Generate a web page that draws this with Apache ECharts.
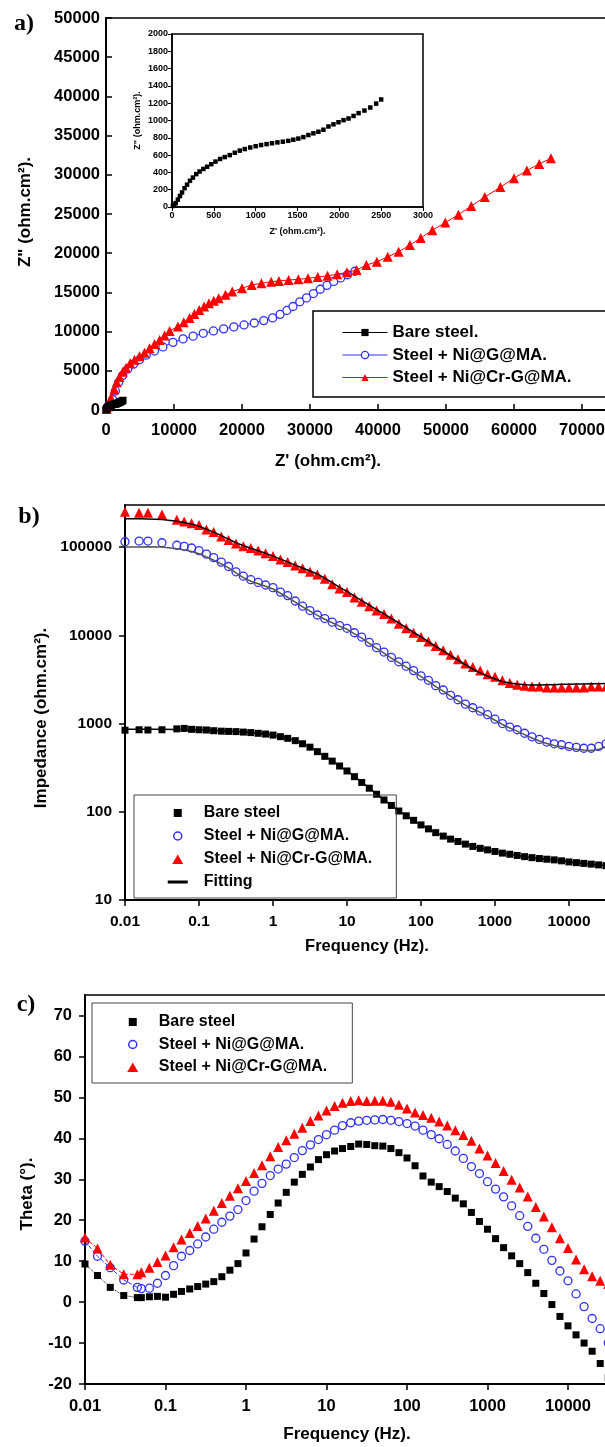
<!DOCTYPE html>
<html>
<head>
<meta charset="utf-8">
<script src="https://cdn.jsdelivr.net/npm/echarts@6.0.0/dist/echarts.min.js"></script>
<style>
html, body { margin: 0; padding: 0; background: #fff; }
#chart { width: 605px; height: 1447px; }
</style>
</head>
<body>
<div id="chart"></div>
<script>
// ---------- a) Nyquist (Z' , Z'') ----------
var reBare = [10, 25, 45, 70, 95, 120, 150, 180, 215, 250, 290, 330, 375, 420, 470, 520, 575, 630, 690, 750,
  810, 870, 935, 1000, 1065, 1130, 1195, 1260, 1325, 1390, 1450, 1510, 1570, 1630, 1690, 1750, 1810, 1870, 1930, 1990,
  2050, 2110, 2170, 2230, 2300, 2370, 2440, 2500];
var imBare = [12, 28, 45, 85, 127, 168, 218, 258, 303, 340, 380, 410, 440, 465, 495, 525, 555, 577, 600, 627,
  652, 670, 688, 703, 716, 727, 737, 747, 755, 765, 778, 791, 808, 832, 852, 870, 893, 931, 956, 980,
  1004, 1023, 1053, 1085, 1115, 1150, 1195, 1243];

var reNi = [150, 490, 985, 1380, 1870, 2460, 3200, 4040, 4930, 5910, 7140, 8370, 9850, 11330, 12810, 14300, 15800,
  17300, 18800, 20300, 21800, 23200, 24500, 25600, 26600, 27500, 28500, 29500, 30500, 31500, 32500, 33500, 34500, 35500, 36600];
var imNi = [300, 700, 1330, 2430, 3540, 4420, 5220, 5840, 6420, 6990, 7520, 8050, 8630, 9070, 9420, 9780, 10080,
  10350, 10600, 10850, 11100, 11400, 11750, 12200, 12700, 13200, 13800, 14300, 14850, 15400, 15900, 16400, 16850, 17250, 17700];

var reCr = [100, 246, 739, 1232, 1576, 1970, 2463, 2955, 3547, 4187, 4926, 5665, 6404, 7143, 7882, 8621, 9360, 10570,
  11430, 12290, 13000, 13710, 14430, 15140, 15850, 16570, 17570, 18570, 20000, 21430, 22860, 24290, 25430, 26860,
  28290, 29710, 31140, 32570, 34000, 35430, 36860, 38290, 39830, 41430, 43030, 44690, 46290, 48000, 49890, 51830,
  53710, 55710, 58000, 60000, 61890, 63710, 65430];
var imCr = [150, 442, 1549, 2655, 3540, 4204, 4867, 5398, 5973, 6416, 6858, 7301, 7876, 8407, 8938, 9513, 10088, 10660,
  11200, 11720, 12250, 12770, 13200, 13620, 13950, 14260, 14700, 15100, 15520, 15950, 16160, 16370, 16460, 16580,
  16670, 16790, 16960, 17130, 17300, 17560, 17850, 18490, 18910, 19540, 20180, 21030, 21950, 22930, 23900, 24920,
  26020, 27160, 28430, 29570, 30540, 31390, 32110];

// ---------- b) Bode |Z| ----------
var fB = [0.01, 0.0155, 0.0204, 0.0316,
  0.0501, 0.0631, 0.0794,
  0.1, 0.126, 0.158, 0.2, 0.251, 0.316, 0.398, 0.501, 0.631, 0.794,
  1, 1.26, 1.58, 2, 2.51, 3.16, 3.98, 5.01, 6.31, 7.94,
  10, 12.6, 15.8, 20, 25.1, 31.6, 39.8, 50.1, 63.1, 79.4,
  100, 126, 158, 200, 251, 316, 398, 501, 631, 794,
  1000, 1259, 1585, 1995, 2512, 3162, 3981, 5012, 6310, 7943,
  10000, 12589, 15849, 19953, 25119, 31623];
var zBare = [840, 850, 845, 850,
  870, 880, 860,
  850, 845, 830, 820, 815, 810, 800, 790, 775, 760,
  740, 710, 680, 640, 590, 540, 480, 425, 375, 330,
  290, 250, 215, 185, 158, 136, 118, 102, 90, 80,
  71, 64, 58, 53, 49, 46, 43, 40.5, 38.5, 37,
  35.5, 34, 33, 32, 31, 30.2, 29.5, 29, 28.5, 27.8,
  27, 26.5, 26, 25.5, 25, 24.5];
var zNi = [115000, 117000, 117000, 112000,
  105000, 102000, 97700,
  91200, 83200, 75900, 67600, 60300, 52500, 46800, 42700, 39800, 37200,
  34700, 30900, 28200, 24500, 21400, 19100, 17000, 15500, 14100, 12900,
  12000, 10700, 9550, 8320, 7240, 6460, 5620, 5010, 4470, 3980,
  3470, 3090, 2690, 2400, 2090, 1860, 1660, 1510, 1380, 1260,
  1120, 1000, 912, 851, 776, 708, 661, 617, 589, 575,
  550, 537, 525, 525, 550, 589];
var zCr = [251000, 245000, 245000, 234000,
  204000, 195000, 186000,
  178000, 158000, 148000, 132000, 120000, 110000, 102000, 97700, 91200, 85100,
  79400, 72400, 67600, 61700, 57500, 52500, 49000, 43700, 38000, 33900,
  30900, 26900, 24000, 21400, 19100, 17400, 15500, 13500, 12000, 10700,
  9550, 8510, 7590, 6760, 6030, 5370, 4790, 4370, 3980, 3630,
  3390, 3090, 2880, 2750, 2690, 2630, 2630, 2570, 2570, 2570,
  2570, 2570, 2570, 2630, 2630, 2630];
var fitBare = [860, 860, 860, 860,
  858, 855, 852,
  848, 843, 836, 828, 820, 812, 803, 792, 778, 762,
  742, 715, 683, 643, 595, 543, 485, 428, 377, 332,
  291, 252, 217, 186, 159, 137, 118, 103, 90, 80,
  71, 64, 58, 53, 49, 46, 43, 40.5, 38.5, 37,
  35.5, 34, 33, 32, 31, 30.2, 29.5, 29, 28.5, 27.8,
  27, 26.5, 26, 25.5, 25, 24.5];
var fitNi = [100000, 100500, 101000, 100000,
  96000, 93000, 89000,
  84000, 77500, 71000, 64500, 58000, 51000, 45000, 41000, 38500, 36000,
  33500, 30000, 27000, 23800, 21000, 18800, 16800, 15200, 13900, 12700,
  11700, 10400, 9300, 8100, 7100, 6300, 5500, 4900, 4350, 3870,
  3400, 3000, 2620, 2330, 2040, 1810, 1620, 1470, 1340, 1220,
  1090, 975, 890, 820, 750, 685, 635, 595, 565, 545,
  525, 510, 500, 495, 510, 545];
var fitCr = [209000, 209000, 208000, 205000,
  196000, 190000, 182000,
  172000, 160000, 148000, 135000, 123000, 112000, 104000, 97000, 91000, 85000,
  79000, 73000, 68000, 62500, 58000, 53500, 49500, 44500, 39500, 35000,
  31500, 27800, 24800, 22000, 19600, 17500, 15600, 13800, 12200, 10800,
  9600, 8500, 7500, 6650, 5900, 5250, 4650, 4150, 3750, 3450,
  3200, 3000, 2880, 2800, 2760, 2740, 2740, 2750, 2760, 2780,
  2790, 2800, 2810, 2820, 2830, 2840];

// ---------- c) Bode phase ----------
var fC = [0.01, 0.0143, 0.0206, 0.0303, 0.0447,
  0.0501, 0.0631, 0.0794,
  0.1, 0.126, 0.158, 0.2, 0.251, 0.316, 0.398, 0.501, 0.631, 0.794,
  1, 1.26, 1.58, 2, 2.51, 3.16, 3.98, 5.01, 6.31, 7.94,
  10, 12.6, 15.8, 20, 25.1, 31.6, 39.8, 50.1, 63.1, 79.4,
  100, 126, 158, 200, 251, 316, 398, 501, 631, 794,
  1000, 1259, 1585, 1995, 2512, 3162, 3981, 5012, 6310, 7943,
  10000, 12589, 15849, 19953, 25119, 31623];
var thBare = [9.3, 6.5, 3.6, 1.6, 1.1,
  1.1, 1.3, 1.4,
  1.2, 1.9, 2.6, 3.2, 3.8, 4.4, 5.0, 6.2, 7.8, 9.4,
  12.0, 15.4, 18.4, 21.4, 24.2, 26.8, 29.3, 31.2, 33.0, 34.8,
  36.0, 36.9, 37.5, 38.0, 38.6, 38.5, 38.2, 38.1, 37.5, 36.5,
  35.2, 33.3, 30.8, 29.3, 28.2, 27.0, 25.4, 24.0, 21.9, 19.7,
  17.8, 15.5, 13.3, 11.3, 9.4, 7.2, 4.6, 2.1, -0.6, -3.5,
  -5.8, -8.0, -10.0, -12.0, -15.0, -18.5];
var thNi = [14.9, 11.2, 8.4, 5.4, 3.6,
  3.3, 3.4, 4.6,
  6.5, 8.9, 11.2, 12.6, 14.2, 15.9, 17.8, 19.5, 21.0, 22.6,
  24.8, 27.1, 29.0, 30.9, 32.5, 33.7, 35.3, 37.0, 38.4, 39.7,
  40.9, 42.0, 43.1, 43.8, 44.2, 44.4, 44.5, 44.6, 44.4, 44.1,
  43.6, 43.0, 42.0, 40.9, 39.9, 38.5, 36.9, 35.1, 33.1, 31.4,
  29.4, 27.6, 25.7, 23.5, 21.1, 18.5, 15.6, 12.9, 10.2, 7.6,
  5.2, 2.0, -1.1, -4.0, -6.5, -10.0];
var thCr = [15.8, 13.1, 9.1, 6.8, 6.8,
  7.3, 8.4, 9.8,
  11.4, 13.4, 15.3, 16.9, 18.6, 20.4, 22.3, 24.2, 26.0, 27.8,
  29.6, 31.5, 33.4, 35.6, 37.9, 39.5, 41.1, 42.6, 44.2, 45.6,
  46.8, 47.9, 48.7, 49.1, 49.3, 49.1, 49.2, 49.2, 48.9, 48.2,
  47.3, 46.3, 45.7, 45.0, 44.1, 43.1, 42.0, 40.8, 39.4, 37.5,
  35.8, 34.0, 32.0, 29.9, 28.0, 25.8, 23.2, 20.9, 18.3, 15.6,
  13.2, 10.4, 8.0, 6.3, 5.2, 4.4];
// the low-frequency points of c) are joined by thin dashed lines
var nLowC = 5;

// tick labels
var freqTicks = [0.01, 0.1, 1, 10, 100, 1000, 10000];
var impTicks = [10, 100, 1000, 10000, 100000];
var thetaTicks = [-20, -10, 0, 10, 20, 30, 40, 50, 60, 70];

var BLUE = '#2e2eff', RED = '#ff0000';
var SANS = '"Liberation Sans", Arial, sans-serif';

function pairs(xs, ys) {
  if (xs.length !== ys.length) throw new Error('length mismatch ' + xs.length + ' vs ' + ys.length);
  return xs.map(function (x, i) { return [x, ys[i]]; });
}
function fmtNum(v) { return String(+(+v).toPrecision(6)); }
function lbl(size, margin, extra) {
  return Object.assign({ color: '#000', fontFamily: SANS, fontWeight: 'bold', fontSize: size, margin: margin, formatter: fmtNum }, extra || {});
}
function axLine(w) { return { show: true, onZero: false, lineStyle: { color: '#000', width: w } }; }
function axTick(inside, len, w, extra) {
  return Object.assign({ show: true, inside: inside, length: len, lineStyle: { color: '#000', width: w } }, extra || {});
}
function title(text, x, y, size, rot) {
  return {
    type: 'text', x: x, y: y, rotation: rot || 0,
    style: { text: text, font: 'bold ' + size + 'px ' + SANS, fill: '#000', align: 'center', verticalAlign: 'middle',
      textAlign: 'center', textVerticalAlign: 'middle' }
  };
}
function panelLabel(text, x, y) {
  return {
    type: 'text', x: x, y: y,
    style: { text: text, font: 'bold 24px "Liberation Serif", serif', fill: '#000', align: 'center', verticalAlign: 'middle',
      textAlign: 'center', textVerticalAlign: 'middle' }
  };
}

// legend icons (drawn in a 42x10 box)
var ICON_SQ = 'path://M0,0M42,10M17,1h8v8h-8z';
var ICON_CI = 'path://M0,0M42,10M17,5a4,4 0 1,0 8,0a4,4 0 1,0 -8,0z';
var ICON_TRI = 'path://M0,0M42,10M21,0.5L26.5,10L15.5,10Z';
var ICON_LINE = 'path://M0,0M42,10M11,3.5h20v3h-20z';

var legendText = function (size) {
  return { fontFamily: SANS, fontWeight: 'bold', fontSize: size, lineHeight: size, color: '#000' };
};

var myChart = echarts.init(document.getElementById('chart'), null, { renderer: 'canvas' });

var option = {
  animation: false,
  backgroundColor: '#fff',
  grid: [
    { left: 106, top: 18, width: 544, height: 392, show: true, borderColor: '#000', borderWidth: 1.5, outerBoundsMode: 'none' },
    { left: 172, top: 34, width: 251, height: 173, show: true, borderColor: '#000', borderWidth: 1.5, backgroundColor: '#fff', outerBoundsMode: 'none' },
    { left: 125, top: 505, width: 518, height: 395, show: true, borderColor: '#000', borderWidth: 1.5, outerBoundsMode: 'none' },
    { left: 85, top: 995, width: 563.5, height: 389, show: true, borderColor: '#000', borderWidth: 1.5, outerBoundsMode: 'none' }
  ],
  xAxis: [
    { gridIndex: 0, type: 'value', min: 0, max: 80000, interval: 10000,
      axisLine: axLine(2), axisTick: axTick(true, 6, 1.5), axisLabel: lbl(16.5, 12), splitLine: { show: false } },
    { gridIndex: 1, type: 'value', min: 0, max: 3000, interval: 500,
      axisLine: axLine(1.5), axisTick: axTick(false, 4, 1), axisLabel: lbl(9, 4), splitLine: { show: false },
      name: "Z' (ohm.cm²).", nameLocation: 'middle', nameGap: 20,
      nameTextStyle: { fontFamily: SANS, fontWeight: 'bold', fontSize: 9, color: '#000' } },
    { gridIndex: 2, type: 'log', logBase: 10, min: 0.01, max: 100000,
      axisLine: axLine(2), axisTick: axTick(false, 6, 1.5, { customValues: freqTicks }),
      axisLabel: lbl(15.5, 14, { customValues: freqTicks }), splitLine: { show: false } },
    { gridIndex: 3, type: 'log', logBase: 10, min: 0.01, max: 100000,
      axisLine: axLine(2), axisTick: axTick(false, 6, 1.5, { customValues: freqTicks }),
      axisLabel: lbl(16.5, 14, { customValues: freqTicks }), splitLine: { show: false } }
  ],
  yAxis: [
    { gridIndex: 0, type: 'value', min: 0, max: 50000, interval: 5000,
      axisLine: axLine(2), axisTick: axTick(true, 6, 1.5), axisLabel: lbl(16.5, 6), splitLine: { show: false } },
    { gridIndex: 1, type: 'value', min: 0, max: 2000, interval: 200,
      axisLine: axLine(1.5), axisTick: axTick(false, 4, 1), axisLabel: lbl(9, 4), splitLine: { show: false },
      name: 'Z" (ohm.cm²).', nameLocation: 'middle', nameGap: 30,
      nameTextStyle: { fontFamily: SANS, fontWeight: 'bold', fontSize: 9, color: '#000' } },
    { gridIndex: 2, type: 'log', logBase: 10, min: 10, max: 300000,
      axisLine: axLine(2), axisTick: axTick(false, 6, 1.5, { customValues: impTicks }),
      axisLabel: lbl(15.5, 13, { customValues: impTicks }), splitLine: { show: false } },
    { gridIndex: 3, type: 'value', min: -20, max: 75,
      axisLine: axLine(2), axisTick: axTick(false, 6, 1.5, { customValues: thetaTicks }),
      axisLabel: lbl(16.5, 13, { customValues: thetaTicks }), splitLine: { show: false } }
  ],
  legend: [
    { orient: 'vertical', left: 313, top: 311, padding: [13, 70, 11, 29], itemWidth: 45, itemHeight: 9, itemGap: 5.5,
      borderColor: '#000', borderWidth: 1.5, selectedMode: false, textStyle: legendText(17),
      lineStyle: { width: 1 }, itemStyle: { borderWidth: 0 },
      data: [
        { name: 'Bare steel.' },
        { name: 'Steel + Ni@G@MA.', itemStyle: { color: '#fff', borderColor: BLUE, borderWidth: 1.3 } },
        { name: 'Steel + Ni@Cr-G@MA.' }
      ] },
    { orient: 'vertical', left: 134, top: 795, padding: [10, 24, 8, 22], itemWidth: 42, itemHeight: 10, itemGap: 7,
      borderColor: '#444', borderWidth: 1, selectedMode: false, textStyle: legendText(16), itemStyle: { borderWidth: 0 },
      data: [
        { name: 'Bare steel', icon: ICON_SQ, itemStyle: { color: '#000' } },
        { name: 'Steel + Ni@G@MA.', icon: ICON_CI, itemStyle: { color: 'rgba(255,255,255,0)', borderColor: BLUE, borderWidth: 1.5 } },
        { name: 'Steel + Ni@Cr-G@MA.', icon: ICON_TRI, itemStyle: { color: RED } },
        { name: 'Fitting', icon: ICON_LINE, itemStyle: { color: '#000' } }
      ] },
    { orient: 'vertical', left: 92, top: 1003, padding: [11, 25, 8, 19], itemWidth: 42, itemHeight: 10, itemGap: 6.5,
      borderColor: '#444', borderWidth: 1, selectedMode: false, textStyle: legendText(16), itemStyle: { borderWidth: 0 },
      data: [
        { name: 'Bare steel', icon: ICON_SQ, itemStyle: { color: '#000' } },
        { name: 'Steel + Ni@G@MA.', icon: ICON_CI, itemStyle: { color: 'rgba(255,255,255,0)', borderColor: BLUE, borderWidth: 1.5 } },
        { name: 'Steel + Ni@Cr-G@MA.', icon: ICON_TRI, itemStyle: { color: RED } }
      ] }
  ],
  graphic: [
    panelLabel('a)', 24, 24),
    panelLabel('b)', 29, 517),
    panelLabel('c)', 26, 1005),
    title('Z" (ohm.cm²).', 25, 212, 17, Math.PI / 2),
    title("Z' (ohm.cm²).", 328, 461, 17),
    title('Impedance (ohm.cm²).', 41, 718, 17, Math.PI / 2),
    title('Frequency (Hz).', 367, 946, 16.5),
    title('Theta (°).', 27, 1194, 17, Math.PI / 2),
    title('Frequency (Hz).', 347, 1434, 17)
  ],
  series: [
    // a) main Nyquist
    { name: 'Bare steel.', type: 'line', xAxisIndex: 0, yAxisIndex: 0, data: pairs(reBare, imBare),
      symbol: 'rect', symbolSize: 7, itemStyle: { color: '#000' }, lineStyle: { color: '#000', width: 1 }, z: 5 },
    { name: 'Steel + Ni@G@MA.', type: 'line', xAxisIndex: 0, yAxisIndex: 0, data: pairs(reNi, imNi),
      symbol: 'circle', symbolSize: 8, itemStyle: { color: '#fff', borderColor: BLUE, borderWidth: 1.3 },
      lineStyle: { color: BLUE, width: 1 }, z: 3 },
    { name: 'Steel + Ni@Cr-G@MA.', type: 'line', xAxisIndex: 0, yAxisIndex: 0, data: pairs(reCr, imCr),
      symbol: 'triangle', symbolSize: 10, itemStyle: { color: RED }, lineStyle: { color: RED, width: 1 }, z: 4 },
    // a) inset: bare steel close-up
    { name: 'Bare steel.', type: 'scatter', xAxisIndex: 1, yAxisIndex: 1, data: pairs(reBare, imBare),
      symbol: 'rect', symbolSize: 4.5, itemStyle: { color: '#000', opacity: 1 }, z: 6 },
    // b) impedance modulus
    { name: 'Bare steel', type: 'scatter', xAxisIndex: 2, yAxisIndex: 2, data: pairs(fB, zBare),
      symbol: 'rect', symbolSize: 7, itemStyle: { color: '#000', opacity: 1 } },
    { name: 'Steel + Ni@G@MA.', type: 'scatter', xAxisIndex: 2, yAxisIndex: 2, data: pairs(fB, zNi),
      symbol: 'circle', symbolSize: 8, itemStyle: { color: 'rgba(255,255,255,0)', borderColor: BLUE, borderWidth: 1.3, opacity: 1 } },
    { name: 'Steel + Ni@Cr-G@MA.', type: 'scatter', xAxisIndex: 2, yAxisIndex: 2, data: pairs(fB, zCr),
      symbol: 'triangle', symbolSize: 10, itemStyle: { color: RED, opacity: 1 } },
    { name: 'Fitting', type: 'line', xAxisIndex: 2, yAxisIndex: 2, data: pairs(fB, fitBare),
      symbol: 'none', lineStyle: { color: '#000', width: 1.5 }, z: 4 },
    { name: 'Fitting', type: 'line', xAxisIndex: 2, yAxisIndex: 2, data: pairs(fB, fitNi),
      symbol: 'none', lineStyle: { color: '#555', width: 1.5 }, z: 4 },
    { name: 'Fitting', type: 'line', xAxisIndex: 2, yAxisIndex: 2, data: pairs(fB, fitCr),
      symbol: 'none', lineStyle: { color: '#000', width: 1.5 }, z: 4 },
    // c) phase angle
    { name: 'Bare steel', type: 'scatter', xAxisIndex: 3, yAxisIndex: 3, data: pairs(fC, thBare),
      symbol: 'rect', symbolSize: 7, itemStyle: { color: '#000', opacity: 1 } },
    { name: 'Steel + Ni@G@MA.', type: 'scatter', xAxisIndex: 3, yAxisIndex: 3, data: pairs(fC, thNi),
      symbol: 'circle', symbolSize: 8, itemStyle: { color: 'rgba(255,255,255,0)', borderColor: BLUE, borderWidth: 1.3, opacity: 1 } },
    { name: 'Steel + Ni@Cr-G@MA.', type: 'scatter', xAxisIndex: 3, yAxisIndex: 3, data: pairs(fC, thCr),
      symbol: 'triangle', symbolSize: 10, itemStyle: { color: RED, opacity: 1 } },
    { name: 'Bare steel', type: 'line', xAxisIndex: 3, yAxisIndex: 3, symbol: 'none', z: 1,
      data: pairs(fC.slice(0, nLowC), thBare.slice(0, nLowC)), lineStyle: { color: '#000', width: 1, type: 'dotted' } },
    { name: 'Steel + Ni@G@MA.', type: 'line', xAxisIndex: 3, yAxisIndex: 3, symbol: 'none', z: 1,
      data: pairs(fC.slice(0, nLowC), thNi.slice(0, nLowC)), lineStyle: { color: BLUE, width: 1, type: 'dashed' } },
    { name: 'Steel + Ni@Cr-G@MA.', type: 'line', xAxisIndex: 3, yAxisIndex: 3, symbol: 'none', z: 1,
      data: pairs(fC.slice(0, nLowC), thCr.slice(0, nLowC)), lineStyle: { color: RED, width: 1, type: 'dashed' } }
  ]
};

myChart.setOption(option);
window.onresize = myChart.resize;
</script>
</body>
</html>
